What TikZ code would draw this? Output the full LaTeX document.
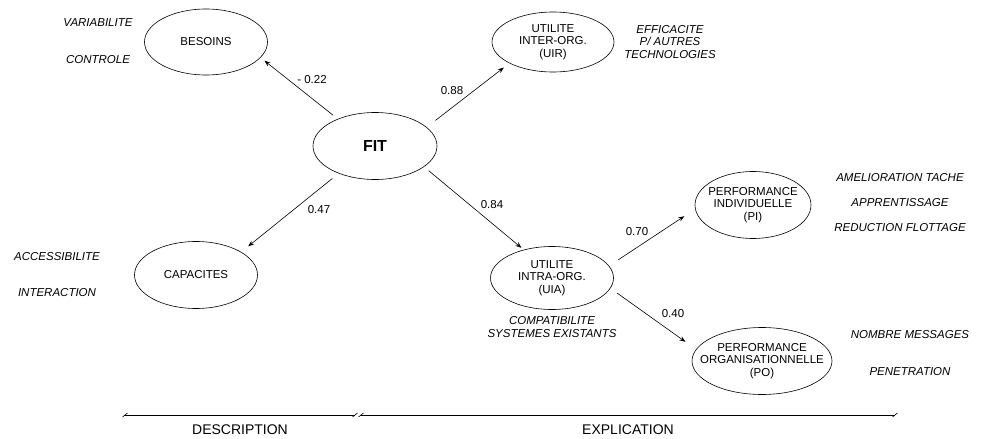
\documentclass[tikz,border=0pt]{standalone}
\usepackage{fontspec}
\setmainfont{Liberation Sans}
\usetikzlibrary{arrows.meta, shapes.geometric}

% zero-width line, keeps the ellipse size free of the text
\newcommand{\ctr}[1]{\makebox[0pt]{#1}}

\begin{document}
\begin{tikzpicture}[
x=1pt, y=-1pt,
every node/.style={
font=\fontsize{11.5}{12.5}\selectfont,
align=center,
inner sep=0pt
},
construct/.style={draw, ellipse, line width=0.6pt},
ind/.style={font=\fontsize{11.5}{12.5}\selectfont\itshape},
coef/.style={font=\fontsize{11.5}{12.5}\selectfont},
arrow/.style={-{Stealth[length=6pt, width=4.5pt]}, line width=0.6pt},
axis/.style={line width=0.8pt}
]
\useasboundingbox (0,0) rectangle (983,439);

% constructs
\node[construct, minimum width=123pt, minimum height=66pt] (besoins) at (206,42) {\ctr{BESOINS}};
\node[construct, minimum width=124pt, minimum height=67pt, font=\fontsize{16}{18}\selectfont\bfseries] (fit) at (375,146) {\ctr{FIT}};
\node[construct, minimum width=122pt, minimum height=60pt] (uir) at (553,42) {\ctr{UTILITE}\\\ctr{INTER-ORG.}\\\ctr{(UIR)}};
\node[construct, minimum width=123pt, minimum height=67pt] (capacites) at (196,275) {\ctr{CAPACITES}};
\node[construct, minimum width=123pt, minimum height=63pt] (uia) at (552,278) {\ctr{UTILITE}\\\ctr{INTRA-ORG.}\\\ctr{(UIA)}};
\node[construct, minimum width=116pt, minimum height=67pt] (pi) at (753,205) {\ctr{PERFORMANCE}\\\ctr{INDIVIDUELLE}\\\ctr{(PI)}};
\node[construct, minimum width=140pt, minimum height=67pt] (po) at (762,361) {\ctr{PERFORMANCE}\\\ctr{ORGANISATIONNELLE}\\\ctr{(PO)}};

% indicators
\node[ind] (variab) at (98,23) {VARIABILITE};
\node[ind] (controle) at (98,60) {CONTROLE};
\node[ind] (effic) at (670,42) {EFFICACITE\\P/ AUTRES\\TECHNOLOGIES};
\node[ind] (access) at (57,257) {ACCESSIBILITE};
\node[ind] (interact) at (57,293) {INTERACTION};
\node[ind, font=\fontsize{11.5}{13}\selectfont\itshape] (compat) at (552,327) {COMPATIBILITE\\SYSTEMES EXISTANTS};
\node[ind] (amelio) at (900,178) {AMELIORATION TACHE};
\node[ind] (apprent) at (900,203) {APPRENTISSAGE};
\node[ind] (reduc) at (900,228) {REDUCTION FLOTTAGE};
\node[ind] (nombre) at (910,335) {NOMBRE MESSAGES};
\node[ind] (penet) at (910,372) {PENETRATION};

% paths
\draw[arrow, shorten <=6pt, shorten >=5pt] (fit.144) -- (besoins.-16);
\draw[arrow, shorten <=11pt, shorten >=7pt] (fit.20) -- (uir.206);
\draw[arrow, shorten <=8pt, shorten >=9pt] (fit.217) -- (capacites.27);
\draw[arrow, shorten <=6pt, shorten >=3pt] (fit.-23) -- (uia.135);
\draw[arrow, shorten <=11pt, shorten >=13pt] (uia.12) -- (pi.184);
\draw[arrow, shorten <=8pt, shorten >=13pt] (uia.-10) -- (po.170);

\node[coef] (c1) at (312,80) {- 0.22};
\node[coef] (c2) at (452,91) {0.88};
\node[coef] (c3) at (319,210) {0.47};
\node[coef] (c4) at (492,205) {0.84};
\node[coef] (c5) at (637,232) {0.70};
\node[coef] (c6) at (673,314) {0.40};

% description / explication
\coordinate (d0) at (125,415);
\coordinate (d1) at (355,415);
\coordinate (e0) at (361,415);
\coordinate (e1) at (895,415);
\draw[axis] (d0) -- (d1);
\draw[axis] (e0) -- (e1);
\foreach \p in {d0,d1,e0,e1}
\draw[line width=0.6pt] (\p) ++(-2.5,2) -- ++(5,-4);

\node[font=\fontsize{14}{16}\selectfont] (descr) at (240,430) {DESCRIPTION};
\node[font=\fontsize{14}{16}\selectfont] (expl) at (628,430) {EXPLICATION};

\end{tikzpicture}
\end{document}
